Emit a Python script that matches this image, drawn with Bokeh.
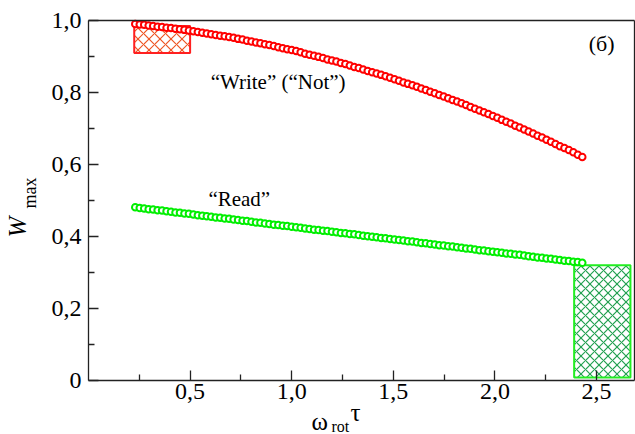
import math
from bokeh.plotting import figure
from bokeh.models import Label, FixedTicker, CustomJSTickFormatter, Range1d, ColumnDataSource, LinearAxis
from bokeh.embed import file_html
from bokeh.resources import INLINE

# ---- data ----
omega_tau = [0.230, 0.252, 0.274, 0.296, 0.318, 0.340, 0.362, 0.384, 0.406, 0.428,
             0.450, 0.472, 0.494, 0.516, 0.538, 0.560, 0.582, 0.604, 0.626, 0.648,
             0.670, 0.692, 0.714, 0.736, 0.758, 0.780, 0.802, 0.824, 0.846, 0.868,
             0.890, 0.912, 0.934, 0.956, 0.978, 1.000, 1.022, 1.044, 1.066, 1.088,
             1.110, 1.132, 1.154, 1.176, 1.198, 1.220, 1.242, 1.264, 1.286, 1.308,
             1.330, 1.352, 1.374, 1.396, 1.418, 1.440, 1.462, 1.484, 1.506, 1.528,
             1.550, 1.572, 1.594, 1.616, 1.638, 1.660, 1.682, 1.704, 1.726, 1.748,
             1.770, 1.792, 1.814, 1.836, 1.858, 1.880, 1.902, 1.924, 1.946, 1.968,
             1.990, 2.012, 2.034, 2.056, 2.078, 2.100, 2.122, 2.144, 2.166, 2.188,
             2.210, 2.232, 2.254, 2.276, 2.298, 2.320, 2.342, 2.364, 2.386, 2.408,
             2.430]

w_write = [0.990, 0.989, 0.988, 0.986, 0.985, 0.983, 0.982, 0.980, 0.979, 0.977,
           0.976, 0.974, 0.972, 0.970, 0.968, 0.966, 0.964, 0.962, 0.960, 0.958,
           0.956, 0.954, 0.952, 0.949, 0.947, 0.944, 0.942, 0.939, 0.937, 0.934,
           0.932, 0.929, 0.926, 0.923, 0.920, 0.918, 0.915, 0.912, 0.908, 0.905,
           0.902, 0.899, 0.896, 0.892, 0.889, 0.886, 0.882, 0.879, 0.875, 0.871,
           0.868, 0.864, 0.860, 0.856, 0.853, 0.849, 0.845, 0.841, 0.837, 0.833,
           0.828, 0.824, 0.820, 0.816, 0.811, 0.807, 0.802, 0.798, 0.793, 0.789,
           0.784, 0.779, 0.775, 0.770, 0.765, 0.760, 0.755, 0.750, 0.745, 0.740,
           0.735, 0.730, 0.724, 0.719, 0.714, 0.708, 0.703, 0.697, 0.692, 0.686,
           0.680, 0.675, 0.669, 0.663, 0.657, 0.651, 0.646, 0.640, 0.634, 0.627,
           0.621]

w_read = [0.481, 0.479, 0.478, 0.476, 0.475, 0.473, 0.472, 0.470, 0.469, 0.467,
          0.466, 0.464, 0.463, 0.461, 0.459, 0.458, 0.456, 0.455, 0.453, 0.452,
          0.450, 0.449, 0.447, 0.446, 0.444, 0.443, 0.441, 0.439, 0.438, 0.436,
          0.435, 0.433, 0.432, 0.430, 0.429, 0.427, 0.426, 0.424, 0.422, 0.421,
          0.419, 0.418, 0.416, 0.415, 0.413, 0.412, 0.410, 0.409, 0.407, 0.406,
          0.404, 0.402, 0.401, 0.399, 0.398, 0.396, 0.395, 0.393, 0.392, 0.390,
          0.389, 0.387, 0.386, 0.384, 0.382, 0.381, 0.379, 0.378, 0.376, 0.375,
          0.373, 0.372, 0.370, 0.369, 0.367, 0.366, 0.364, 0.362, 0.361, 0.359,
          0.358, 0.356, 0.355, 0.353, 0.352, 0.350, 0.349, 0.347, 0.345, 0.344,
          0.342, 0.341, 0.339, 0.338, 0.336, 0.335, 0.333, 0.332, 0.330, 0.329,
          0.327]

# hatched boxes: [left, right, bottom, top]
write_box = [0.225, 0.500, 0.910, 0.985]
read_box = [2.390, 2.667, 0.008, 0.320]

x_ticks = [0.5, 1.0, 1.5, 2.0, 2.5]
x_minor = [0.25, 0.75, 1.25, 1.75, 2.25]
y_ticks = [0.0, 0.2, 0.4, 0.6, 0.8, 1.0]
y_minor = [0.1, 0.3, 0.5, 0.7, 0.9]
x_span = (0.0, 2.687)   # plotted extent of the axes box
y_span = (0.0, 1.0)

FONT = "Liberation Serif"
AX = "#222222"

# the view extends past the axes box so that the axis titles can live inside it
p = figure(width=635, height=434, output_backend="svg", toolbar_location=None,
           x_range=Range1d(-0.4331, 2.6919), y_range=Range1d(-0.15, 1.0556),
           min_border_left=0, min_border_right=0, min_border_top=0,
           min_border_bottom=0)
p.xgrid.visible = False
p.ygrid.visible = False
p.outline_line_color = None
p.background_fill_color = "white"
p.border_fill_color = "white"

fmt = CustomJSTickFormatter(code="""
    if (Math.abs(tick) < 1e-9) { return "0"; }
    return tick.toFixed(1).replace('.', ',');
""")

for ax, tk, mn in ((p.xaxis[0], x_ticks, x_minor), (p.yaxis[0], y_ticks, y_minor)):
    ax.ticker = FixedTicker(ticks=tk, minor_ticks=mn)
    ax.formatter = fmt
    ax.major_tick_in = 10
    ax.major_tick_out = 0
    ax.minor_tick_in = 6
    ax.minor_tick_out = 0
    ax.axis_line_color = AX
    ax.axis_line_width = 1.3
    ax.major_tick_line_color = AX
    ax.major_tick_line_width = 1.3
    ax.minor_tick_line_color = AX
    ax.minor_tick_line_width = 1.3
    ax.major_label_text_font = FONT
    ax.major_label_text_font_size = "24px"
    ax.major_label_text_color = "black"
p.xaxis.fixed_location = y_span[0]
p.xaxis.bounds = x_span
p.yaxis.fixed_location = x_span[0]
p.yaxis.bounds = y_span
p.xaxis.major_label_standoff = 3
p.yaxis.major_label_standoff = 7


def edge_axis(loc, bounds):
    return LinearAxis(ticker=FixedTicker(ticks=[]), fixed_location=loc, bounds=bounds,
                      axis_line_color=AX, axis_line_width=1.3,
                      major_tick_out=0, minor_tick_out=0, major_tick_in=0, minor_tick_in=0)

p.add_layout(edge_axis(y_span[1], x_span), "above")
p.add_layout(edge_axis(x_span[1], y_span), "right")

# hatched boxes
p.quad(left=[write_box[0]], right=[write_box[1]], bottom=[write_box[2]], top=[write_box[3]],
       fill_color=None, line_color="#ff2020", line_width=2,
       hatch_pattern="x", hatch_color="#ee5522", hatch_scale=11, hatch_weight=1.2)
p.quad(left=[read_box[0]], right=[read_box[1]], bottom=[read_box[2]], top=[read_box[3]],
       fill_color=None, line_color="#22ee22", line_width=2,
       hatch_pattern="x", hatch_color="#22a050", hatch_scale=9, hatch_weight=1.2)

src = ColumnDataSource(dict(x=omega_tau, w=w_write, r=w_read))
p.scatter("x", "w", source=src, marker="circle", size=6.5, fill_color="white",
          line_color="#ff0000", line_width=2)
p.scatter("x", "r", source=src, marker="circle", size=6.5, fill_color="white",
          line_color="#00ee00", line_width=2)


def lab(x, y, text, size, style="normal", angle=0.0):
    p.add_layout(Label(x=x, y=y, text=text, angle=angle, text_font=FONT,
                       text_font_size=size, text_font_style=style,
                       text_color="black", text_align="left",
                       text_baseline="alphabetic"))

lab(0.601, 0.829, "\u201cWrite\u201d (\u201cNot\u201d)", "21px")
lab(0.590, 0.503, "\u201cRead\u201d", "21px")
lab(2.462, 0.937, "(\u0431)", "22px")

# axis titles: W_max and omega_rot tau
lab(-0.347, 0.397, "W", "25px", style="italic", angle=math.pi / 2)
lab(-0.288, 0.478, "max", "18px", angle=math.pi / 2)
lab(1.0974, -0.1125, "\u03c9", "25px")
lab(1.1959, -0.1285, "rot", "16px")
lab(1.2894, -0.088, "\u03c4", "25px")

open("out.html", "w").write(file_html(p, INLINE))
